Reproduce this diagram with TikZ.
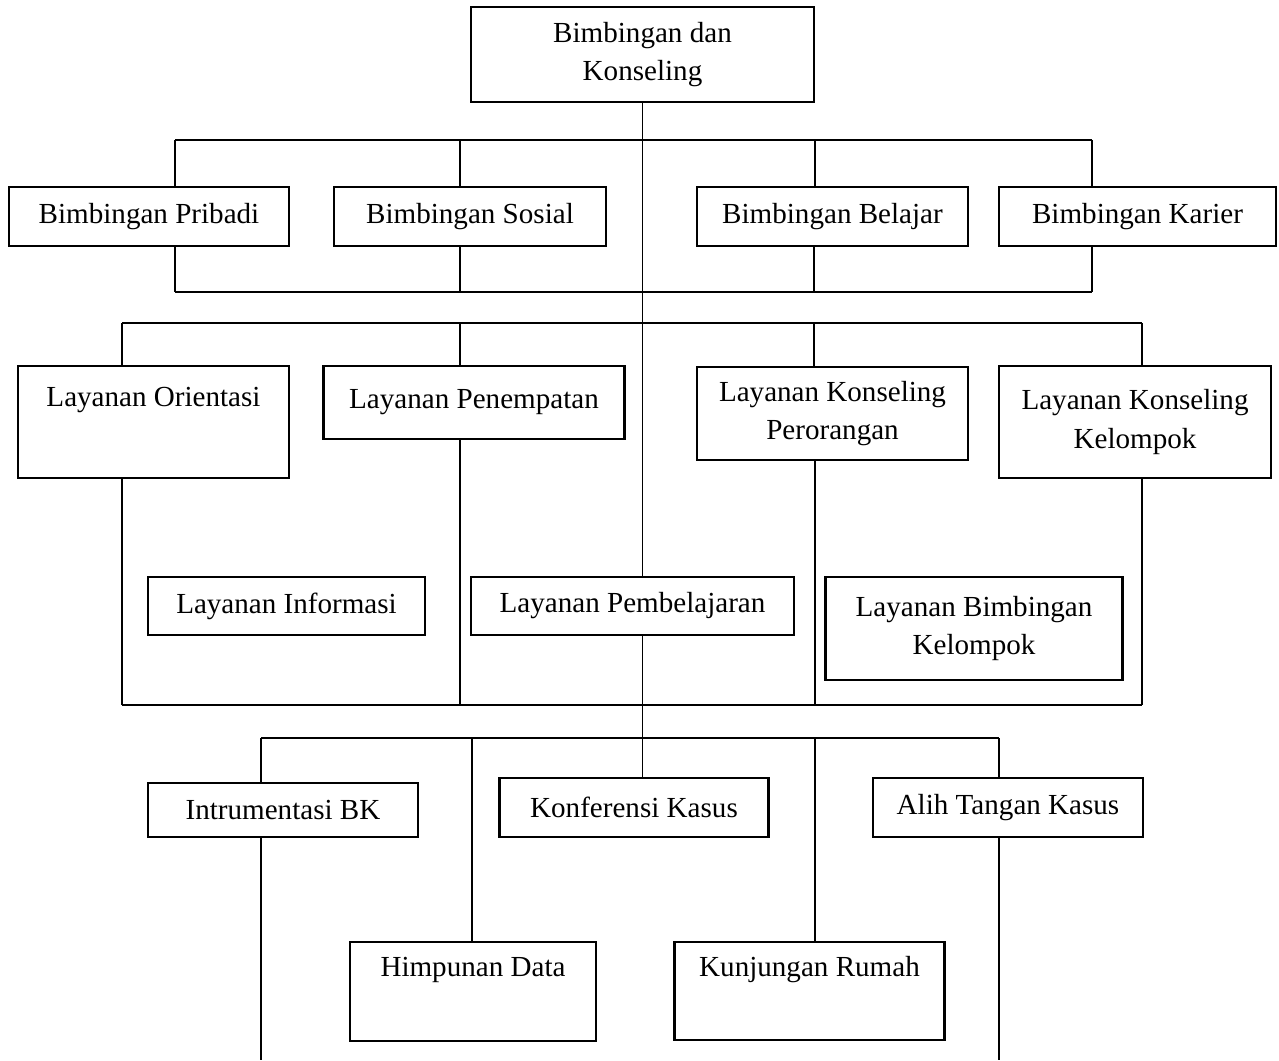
\documentclass[tikz,border=0pt]{standalone}
\usepackage{fontspec}
\setmainfont{Liberation Serif}
\usetikzlibrary{calc}

% one pixel of the page
\newcommand{\pu}{0.4125pt}

\begin{document}
\begin{tikzpicture}[x=\pu, y=-\pu, line width=0.8pt,
    box/.style={draw, line width=1pt, align=center, inner sep=0pt,
        font=\fontsize{12}{15.7}\selectfont}]

        \useasboundingbox (0,0) rectangle (1279,1060);

        % Draw the main box
        \node[box, minimum width=343*\pu, minimum height=95*\pu] (bk) at (642.5,54.5) {Bimbingan dan\\Konseling};

        % Draw the four kinds of guidance
        \node[box, minimum width=280*\pu, minimum height=59*\pu] (pribadi) at (149,216.5) {Bimbingan Pribadi};
        \node[box, minimum width=272*\pu, minimum height=59*\pu] (sosial) at (470,216.5) {Bimbingan Sosial};
        \node[box, minimum width=271*\pu, minimum height=59*\pu] (belajar) at (832.5,216.5) {Bimbingan Belajar};
        \node[box, minimum width=277*\pu, minimum height=59*\pu] (karier) at (1137.5,216.5) {Bimbingan Karier};

        % Draw the services
        \node[box, minimum width=271*\pu, minimum height=112*\pu] (orientasi) at (153.5,422) {Layanan Orientasi\\\strut};
        \node[box, minimum width=301*\pu, minimum height=73*\pu] (penempatan) at (474,402.5) {Layanan Penempatan};
        \node[box, minimum width=271*\pu, minimum height=93*\pu] (perorangan) at (832.5,413.5) {Layanan Konseling\\Perorangan};
        \node[box, minimum width=272*\pu, minimum height=112*\pu] (kelompok) at (1135,422) {Layanan Konseling\\Kelompok};
        \node[box, minimum width=277*\pu, minimum height=58*\pu] (informasi) at (286.5,606) {Layanan Informasi};
        \node[box, minimum width=323*\pu, minimum height=58*\pu] (pembelajaran) at (632.5,606) {Layanan Pembelajaran};
        \node[box, minimum width=297*\pu, minimum height=103*\pu] (bimkel) at (974,628.5) {Layanan Bimbingan\\Kelompok};

        % Draw the supporting activities
        \node[box, minimum width=270*\pu, minimum height=54*\pu] (instrumen) at (283,810) {Intrumentasi BK};
        \node[box, minimum width=269*\pu, minimum height=59*\pu] (konferensi) at (634,807.5) {Konferensi Kasus};
        \node[box, minimum width=270*\pu, minimum height=59*\pu] (alih) at (1008,807.5) {Alih Tangan Kasus};
        \node[box, minimum width=246*\pu, minimum height=99*\pu] (himpunan) at (473,991.5) {Himpunan Data\\\strut};
        \node[box, minimum width=270*\pu, minimum height=98*\pu] (kunjungan) at (809.5,991) {Kunjungan Rumah\\\strut};

        % Draw the trunk from the main box
        \draw (bk.south) -- (bk.south |- pembelajaran.north);
        \draw (bk.south |- pembelajaran.south) -- (bk.south |- konferensi.north);

        % Bus above and below the guidance row
        \coordinate (a1) at (175,140);
        \coordinate (a2) at (460,140);
        \coordinate (a3) at (815,140);
        \coordinate (a4) at (1092,140);
        \draw (a1) -- (a4);
        \foreach \c/\n in {a1/pribadi, a2/sosial, a3/belajar, a4/karier}
            \draw (\c) -- (\c |- \n.north);

        \coordinate (b1) at (175,292);
        \coordinate (b2) at (460,292);
        \coordinate (b3) at (814,292);
        \coordinate (b4) at (1092,292);
        \draw (b1) -- (b4);
        \foreach \c/\n in {b1/pribadi, b2/sosial, b3/belajar, b4/karier}
            \draw (\c) -- (\c |- \n.south);

        % Bus above and below the services
        \coordinate (c1) at (122,323);
        \coordinate (c2) at (460,323);
        \coordinate (c3) at (814,323);
        \coordinate (c4) at (1142,323);
        \draw (c1) -- (c4);
        \foreach \c/\n in {c1/orientasi, c2/penempatan, c3/perorangan, c4/kelompok}
            \draw (\c) -- (\c |- \n.north);

        \coordinate (d1) at (122,705);
        \coordinate (d2) at (460,705);
        \coordinate (d3) at (815,705);
        \coordinate (d4) at (1142,705);
        \draw (d1) -- (d4);
        \foreach \c/\n in {d1/orientasi, d2/penempatan, d3/perorangan, d4/kelompok}
            \draw (\c) -- (\c |- \n.south);

        % Bus above the supporting activities
        \coordinate (e1) at (261,738);
        \coordinate (e2) at (472,738);
        \coordinate (e3) at (815,738);
        \coordinate (e4) at (999,738);
        \draw (e1) -- (e4);
        \foreach \c/\n in {e1/instrumen, e2/himpunan, e3/kunjungan, e4/alih}
            \draw (\c) -- (\c |- \n.north);

        % Lines running off the page
        \coordinate (f1) at (261,1060);
        \coordinate (f4) at (999,1060);
        \draw (f1 |- instrumen.south) -- (f1);
        \draw (f4 |- alih.south) -- (f4);

    \end{tikzpicture}
\end{document}
